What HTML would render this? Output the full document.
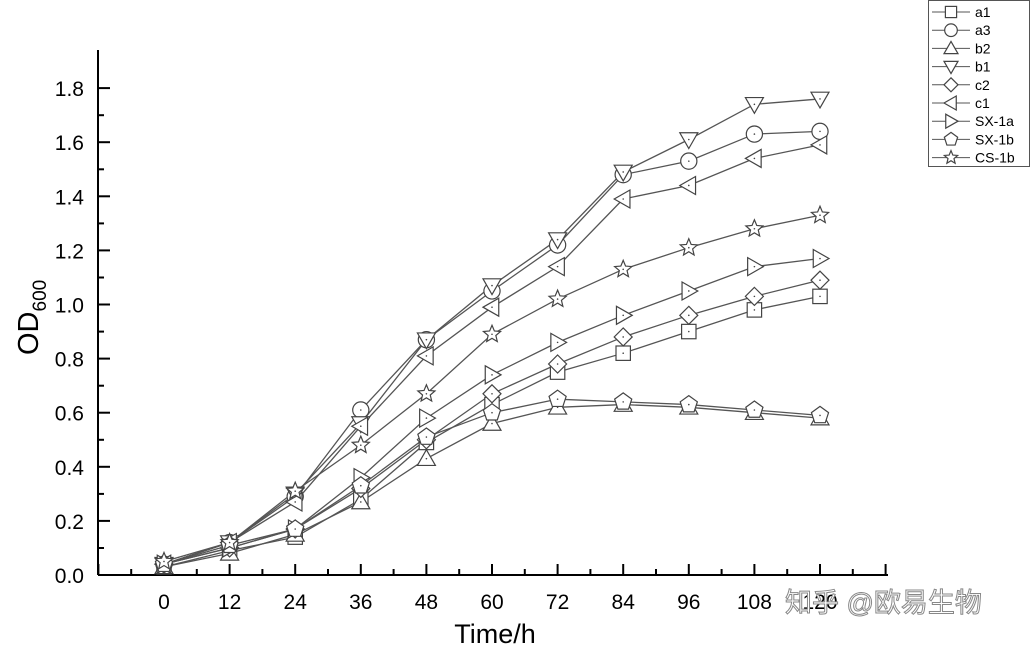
<!DOCTYPE html><html><head><meta charset="utf-8"><style>body{margin:0;background:#fff}svg{display:block}</style></head><body>
<svg id="s" width="1033" height="647" xmlns="http://www.w3.org/2000/svg" font-family="Liberation Sans, sans-serif"></svg>
<script>
const s=document.getElementById('s');let h='';
const X=t=>164+t/12*65.6, Y=v=>575-v/0.2*54.1;
h+='<line x1="98" y1="575" x2="888" y2="575" stroke="#000" stroke-width="2"/><line x1="98" y1="575" x2="98" y2="50" stroke="#000" stroke-width="2"/>';
for(let i=-1;i<=11;i++){const x=X(i*12);h+=`<line x1="${x}" y1="575" x2="${x}" y2="564" stroke="#000" stroke-width="2"/>`;const xm=x+32.8;if(xm<888)h+=`<line x1="${xm}" y1="575" x2="${xm}" y2="569" stroke="#000" stroke-width="2"/>`;if(i>=0&&i<=10)h+=`<text x="${x}" y="609" font-size="21" text-anchor="middle">${i*12}</text>`;}
for(let i=0;i<=9;i++){const y=Y(i*0.2);h+=`<line x1="98" y1="${y}" x2="110" y2="${y}" stroke="#000" stroke-width="2"/>`;if(i<9)h+=`<line x1="98" y1="${y-27}" x2="104" y2="${y-27}" stroke="#000" stroke-width="2"/>`;h+=`<text x="84" y="${y+8}" font-size="21" text-anchor="end">${(i*0.2).toFixed(1)}</text>`;}
h+='<text x="495" y="643" font-size="27" text-anchor="middle">Time/h</text>';
h+='<text transform="translate(38,355) rotate(-90)" font-size="29">OD<tspan font-size="19" dy="8">600</tspan></text>';
const D={a1:[.03,.09,.14,.28,.49,.63,.75,.82,.90,.98,1.03],a3:[.04,.12,.29,.61,.87,1.05,1.22,1.48,1.53,1.63,1.64],b2:[.03,.08,.15,.27,.43,.56,.62,.63,.62,.60,.58],b1:[.04,.12,.30,.56,.87,1.07,1.24,1.49,1.61,1.74,1.76],c2:[.04,.10,.17,.32,.50,.67,.78,.88,.96,1.03,1.09],c1:[.04,.12,.27,.55,.81,.99,1.14,1.39,1.44,1.54,1.59],'SX-1a':[.04,.10,.17,.36,.58,.74,.86,.96,1.05,1.14,1.17],'SX-1b':[.04,.11,.17,.33,.51,.60,.65,.64,.63,.61,.59],'CS-1b':[.05,.12,.31,.48,.67,.89,1.02,1.13,1.21,1.28,1.33]};
function mk(n,x,y,r){const st='fill="#fff" stroke="#444" stroke-width="1.2"';let p;
switch(n){case'a1':return `<rect x="${x-r*.8}" y="${y-r*.8}" width="${r*1.6}" height="${r*1.6}" ${st}/>`;
case'a3':return `<circle cx="${x}" cy="${y}" r="${r*.9}" ${st}/>`;
case'b2':p=[[0,-r],[r,r*.75],[-r,r*.75]];break;case'b1':p=[[0,r],[r,-r*.75],[-r,-r*.75]];break;
case'c2':p=[[0,-r],[r,0],[0,r],[-r,0]];break;case'c1':p=[[-r,0],[r*.75,-r],[r*.75,r]];break;
case'SX-1a':p=[[r,0],[-r*.75,-r],[-r*.75,r]];break;
case'SX-1b':p=[0,1,2,3,4].map(k=>[r*Math.sin(k*1.2566),-r*Math.cos(k*1.2566)]);break;
default:p=[];for(let k=0;k<10;k++){const rr=k%2?r*.45:r;p.push([rr*Math.sin(k*.6283),-rr*Math.cos(k*.6283)]);}}
return `<polygon points="${p.map(q=>(x+q[0])+','+(y+q[1])).join(' ')}" ${st}/>`;}
for(const n in D){const v=D[n];h+=`<polyline fill="none" stroke="#555" stroke-width="1.3" points="${v.map((a,i)=>X(i*12)+','+Y(a)).join(' ')}"/>`;}
for(const n in D){D[n].forEach((a,i)=>{h+=mk(n,X(i*12),Y(a),9)+`<circle cx="${X(i*12)}" cy="${Y(a)}" r="0.8" fill="#444"/>`;});}
h+='<rect x="928.5" y="0.5" width="101" height="166" fill="#fff" stroke="#555"/>';
Object.keys(D).forEach((n,i)=>{const y=12+i*18.2;h+=`<line x1="932" y1="${y}" x2="970" y2="${y}" stroke="#555"/>`+mk(n,951,y,7)+`<text x="975" y="${y+5}" font-size="14">${n}</text>`;});
h+='<text x="785" y="612" font-size="27" fill="#fff" stroke="#888" stroke-width="1" font-family="Liberation Sans, Noto Sans CJK SC, sans-serif">知乎 @欧易生物</text>';
s.innerHTML=h;
</script></body></html>
